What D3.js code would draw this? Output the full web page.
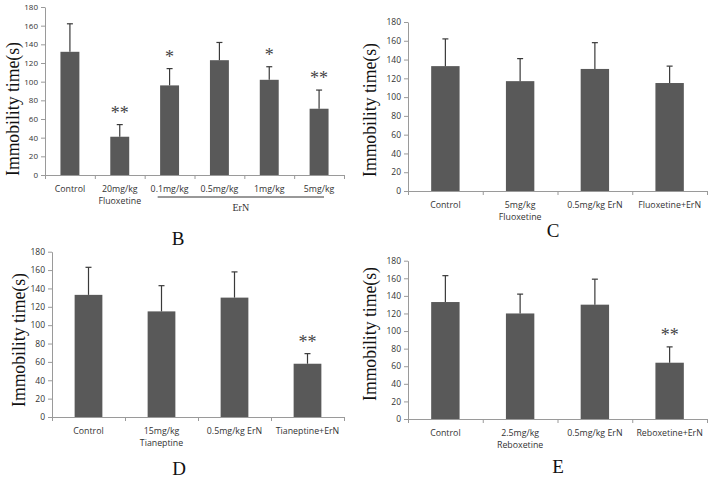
<!DOCTYPE html>
<html><head><meta charset="utf-8">
<script src="https://cdn.jsdelivr.net/npm/d3@7"></script>
<style>body{margin:0;background:#fff}svg{display:block}</style>
</head><body>
<svg id="c" width="711" height="478"></svg>
<script>
// ---- data ----
const yTicks = [0,20,40,60,80,100,120,140,160,180];
const yTitle = "Immobility time(s)";

const catsB = ["Control","20mg/kg\nFluoxetine","0.1mg/kg","0.5mg/kg","1mg/kg","5mg/kg"];
const meanB = [132, 41, 96, 123, 102, 71];
const errB  = [30, 13, 18, 19, 14, 20];
const sigB  = ["","**","*","","*","**"];

const catsC = ["Control","5mg/kg\nFluoxetine","0.5mg/kg ErN","Fluoxetine+ErN"];
const meanC = [133, 117, 130, 115];
const errC  = [29, 24, 28, 18];
const sigC  = ["","","",""];

const catsD = ["Control","15mg/kg\nTianeptine","0.5mg/kg ErN","Tianeptine+ErN"];
const meanD = [133, 115, 130, 58];
const errD  = [30, 28, 28, 11];
const sigD  = ["","","","**"];

const catsE = ["Control","2.5mg/kg\nReboxetine","0.5mg/kg ErN","Reboxetine+ErN"];
const meanE = [133, 120, 130, 64];
const errE  = [30, 22, 29, 18];
const sigE  = ["","","","**"];

const svg = d3.select("#c");
const BAR = "#595959", AXIS = "#9a9a9a";

function panel(o){
  const g = svg.append("g");
  const x = d3.scaleBand().domain(o.cats).range([o.x0, o.x1]).paddingInner(0.62).paddingOuter(0.31);
  const xb = d3.scaleLinear().domain([0, o.cats.length]).range([o.x0, o.x1]);
  const y = d3.scaleLinear().domain([0,180]).range([o.y0, o.yTop]);

  // y axis
  const ya = g.append("g").attr("transform",`translate(${o.x0},0)`)
    .call(d3.axisLeft(y).tickValues(yTicks).tickSize(4).tickSizeOuter(0).tickPadding(3));
  ya.select(".domain").attr("stroke",AXIS);
  ya.selectAll(".tick line").attr("stroke",AXIS);
  ya.selectAll(".tick text").attr("fill","#333").style("font-family","'Open Sans'").style("font-size",o.tf+"px");

  // x axis
  const xa = g.append("g").attr("transform",`translate(0,${o.y0})`)
    .call(d3.axisBottom(xb).tickValues(d3.range(o.cats.length+1)).tickFormat("").tickSize(4).tickSizeOuter(0));
  xa.select(".domain").attr("stroke",AXIS);
  xa.selectAll(".tick line").attr("stroke",AXIS);

  // bars
  const data = o.cats.map((c,i)=>({c, m:o.mean[i], e:o.err[i], s:o.sig[i]}));
  g.selectAll("rect.bar").data(data).join("rect").attr("class","bar")
    .attr("x", d=>x(d.c)).attr("width", x.bandwidth())
    .attr("y", d=>y(d.m)).attr("height", d=>y(0)-y(d.m)).attr("fill",BAR);
  // error bars
  g.selectAll("line.eb").data(data).join("line").attr("class","eb")
    .attr("x1", d=>x(d.c)+x.bandwidth()/2).attr("x2", d=>x(d.c)+x.bandwidth()/2)
    .attr("y1", d=>y(d.m)).attr("y2", d=>y(d.m+d.e)).attr("stroke","#3a3a3a").attr("stroke-width",1.2);
  g.selectAll("line.cap").data(data).join("line").attr("class","cap")
    .attr("x1", d=>x(d.c)+x.bandwidth()/2-3).attr("x2", d=>x(d.c)+x.bandwidth()/2+3)
    .attr("y1", d=>y(d.m+d.e)).attr("y2", d=>y(d.m+d.e)).attr("stroke","#3a3a3a").attr("stroke-width",1.2);
  // significance
  g.selectAll("text.sig").data(data.filter(d=>d.s)).join("text").attr("class","sig")
    .attr("x", d=>x(d.c)+x.bandwidth()/2).attr("y", d=>y(d.m+d.e)-6)
    .attr("text-anchor","middle").attr("fill","#444")
    .style("font-family","'Liberation Serif'").style("font-size","18px")
    .text(d=>d.s);
  // category labels
  const lab = g.selectAll("text.cat").data(data).join("text").attr("class","cat")
    .attr("text-anchor","middle").attr("fill","#333")
    .style("font-family","'Open Sans'").style("font-size",o.lf+"px");
  lab.each(function(d){
    const t = d3.select(this);
    d.c.split("\n").forEach((ln,k)=>{
      t.append("tspan").attr("x", x(d.c)+x.bandwidth()/2).attr("y", o.y0+17+k*12).text(ln);
    });
  });
  // y title
  g.append("text").attr("transform",`translate(${o.tx},${o.ty}) rotate(-90)`)
    .attr("text-anchor","middle").attr("fill","#111")
    .attr("textLength",134).attr("lengthAdjust","spacingAndGlyphs")
    .style("font-family","'Liberation Serif'").style("font-size","19px").text(yTitle);
  // panel letter
  g.append("text").attr("x",o.lx).attr("y",o.ly).attr("text-anchor","middle").attr("fill","#111")
    .style("font-family","'Liberation Serif'").style("font-size","19px").text(o.letter);
  return {g,x,xb,y};
}

const pB = panel({cats:catsB, mean:meanB, err:errB, sig:sigB, x0:45, x1:344, yTop:7, y0:175, tf:8, lf:8.8, tx:19, ty:109, lx:178, ly:245, letter:"B"});
// ErN group bracket
pB.g.append("line").attr("x1", pB.xb(2)+13).attr("x2", pB.xb(6)-20)
  .attr("y1",197).attr("y2",197).attr("stroke","#333").attr("stroke-width",1);
pB.g.append("text").attr("x",(pB.xb(2)+13+pB.xb(6)-20)/2).attr("y",211).attr("text-anchor","middle").attr("fill","#333")
  .style("font-family","'Liberation Serif'").style("font-size","10px").text("ErN");

panel({cats:catsC, mean:meanC, err:errC, sig:sigC, x0:408, x1:707, yTop:22, y0:191, tf:8.5, lf:8.8, tx:376, ty:110, lx:553, ly:237, letter:"C"});
panel({cats:catsD, mean:meanD, err:errD, sig:sigD, x0:52, x1:344, yTop:251.7, y0:417, tf:8.5, lf:8.8, tx:25, ty:340, lx:179, ly:475, letter:"D"});
panel({cats:catsE, mean:meanE, err:errE, sig:sigE, x0:408, x1:707, yTop:260.7, y0:419, tf:8.5, lf:8.8, tx:376, ty:334, lx:558, ly:473, letter:"E"});
</script>
</body></html>
